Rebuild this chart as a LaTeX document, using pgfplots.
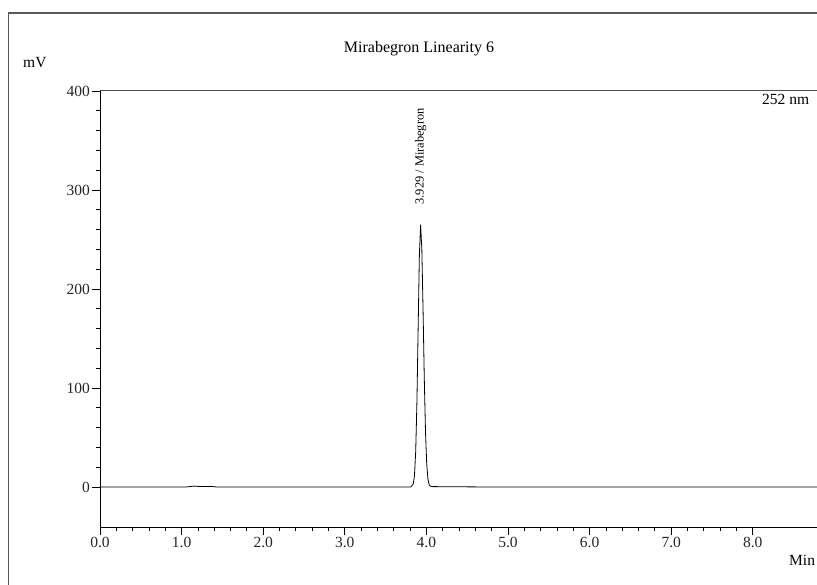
\documentclass[border=0pt]{standalone}
\usepackage{fontspec}
\setmainfont{Liberation Serif}
\usepackage{pgfplots}
\pgfplotsset{compat=1.18}

\begin{document}
\begin{tikzpicture}[x=1pt,y=1pt]
\useasboundingbox (0,0) rectangle (817,585);
% outer frame (cut by the image edges)
\draw[black!65, line width=1.2pt] (8.5,-5) -- (8.5,572) -- (822,572);

\begin{axis}[
  at={(100pt,58pt)}, anchor=south west,
  scale only axis, width=717pt, height=436pt,
  xmin=0, xmax=8.787, ymin=-40.4, ymax=400,
  axis lines=left, axis line style={-, black, line width=0.9pt},
  xtick={0,1,...,8},
  xticklabels={0.0,1.0,2.0,3.0,4.0,5.0,6.0,7.0,8.0},
  ytick={0,100,200,300,400},
  minor x tick num=4, minor y tick num=4,
  tick align=outside, major tick length=8pt, minor tick length=4pt,
  tick style={black, line width=0.8pt},
  tick label style={font=\fontsize{15.5}{17}\selectfont, text=black!85},
  xticklabel style={inner sep=1.5pt},
  yticklabel style={inner sep=2pt},
  /pgf/number format/assume math mode=true,
  clip=false,
]
% baseline and peak, 252 nm trace
\addplot[black, line width=0.8pt] coordinates {
  (0,0) (1.05,0) (1.12,0.6) (1.16,0.9) (1.22,0.5) (1.30,0.4) (1.36,0.6) (1.42,0.1) (1.5,0)
  (3.70,0) (3.809,0.09) (3.839,2.9) (3.854,11.6) (3.869,35.9) (3.884,86.0)
  (3.899,160.7) (3.914,233.9) (3.929,265) (3.944,240.4) (3.959,179.6)
  (3.974,110.3) (3.989,55.8) (4.004,23.3) (4.019,8.0) (4.034,2.25)
  (4.049,0.8) (4.08,0.4) (4.2,0.3) (4.5,0.15) (4.8,0) (8.787,0)
};
\draw[black!70, line width=1pt] (axis description cs:0,1) -- (axis description cs:1.01,1);
\node[rotate=90, anchor=west, inner sep=0pt, font=\fontsize{12.4}{14}\selectfont]
  at (axis cs:3.929,285.2) {3.929 / Mirabegron};
\end{axis}

\node[anchor=base, font=\fontsize{16}{18}\selectfont] at (419,532) {Mirabegron Linearity 6};
\node[anchor=base west, inner sep=0pt, font=\fontsize{15.5}{17}\selectfont] at (23,517) {mV};
\node[anchor=base west, inner sep=0pt, font=\fontsize{15.5}{17}\selectfont] at (762,480) {252 nm};
\node[anchor=base west, inner sep=0pt, font=\fontsize{15.5}{17}\selectfont] at (789,19) {Min};
\end{tikzpicture}
\end{document}
